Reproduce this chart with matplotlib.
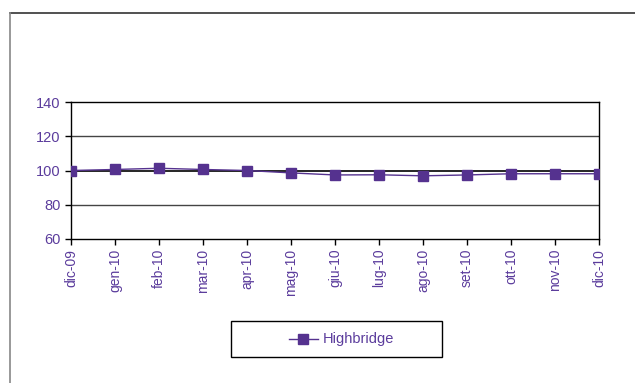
import matplotlib
matplotlib.use('Agg')
import matplotlib.pyplot as plt
from matplotlib.patches import Rectangle

# Monthly index, Highbridge
months = ['dic-09', 'gen-10', 'feb-10', 'mar-10', 'apr-10', 'mag-10', 'giu-10',
          'lug-10', 'ago-10', 'set-10', 'ott-10', 'nov-10', 'dic-10']
highbridge = [100, 100.6, 101.3, 100.6, 100, 98.6, 97.4, 97.5, 96.9, 97.4, 98.1, 98.1, 98.1]
y_ticks = [60, 80, 100, 120, 140]

purple = '#55328f'
text_col = '#5b3c9c'

plt.rcParams['font.family'] = ['Liberation Sans', 'DejaVu Sans']

fig = plt.figure(figsize=(6.35, 3.83), dpi=100)
W, H = 635, 383
ax = fig.add_axes([71 / W, 1 - 239 / H, (599 - 71) / W, (239 - 102) / H])

# outer frame (top and left only visible)
fig.add_artist(plt.Line2D([10 / W, 1], [1 - 13 / H, 1 - 13 / H], transform=fig.transFigure,
                          color='#333333', lw=1.2))
fig.add_artist(plt.Line2D([10 / W, 10 / W], [0, 1 - 13 / H], transform=fig.transFigure,
                          color='#888888', lw=1.2))

x = list(range(len(months)))
for t in y_ticks[1:-1]:
    ax.axhline(t, color='black' if t == 100 else '#444444', lw=1.2 if t == 100 else 1.0, zorder=1)
ax.plot(x, highbridge, color=purple, lw=1, marker='s', markersize=6.5,
        markerfacecolor=purple, markeredgecolor=purple, label='Highbridge', zorder=3)

ax.set_xlim(0, len(months) - 1)
ax.set_ylim(60, 140)
ax.set_yticks(y_ticks)
ax.set_xticks(x)
ax.set_xticklabels(months, rotation=90, color=text_col, fontsize=10)
ax.set_yticklabels([str(v) for v in y_ticks], color=text_col, fontsize=10.5)
ax.tick_params(axis='both', direction='out', length=4, color='black', width=1)
ax.tick_params(axis='x', pad=3)
for s in ax.spines.values():
    s.set_color('black')
    s.set_linewidth(1)

# legend box
fig.add_artist(Rectangle((231 / W, 1 - 357 / H), 211 / W, 36 / H, transform=fig.transFigure,
                         facecolor='white', edgecolor='black', lw=1))
leg_y = 1 - 339 / H
fig.add_artist(plt.Line2D([289 / W, 318 / W], [leg_y, leg_y], transform=fig.transFigure,
                          color=purple, lw=1))
fig.add_artist(plt.Line2D([303 / W], [leg_y], transform=fig.transFigure,
                          color=purple, marker='s', markersize=6.5, lw=0))
fig.text(323 / W, leg_y, 'Highbridge', color=text_col, fontsize=10.5, va='center', ha='left')

fig.savefig('out.png', dpi=100)
